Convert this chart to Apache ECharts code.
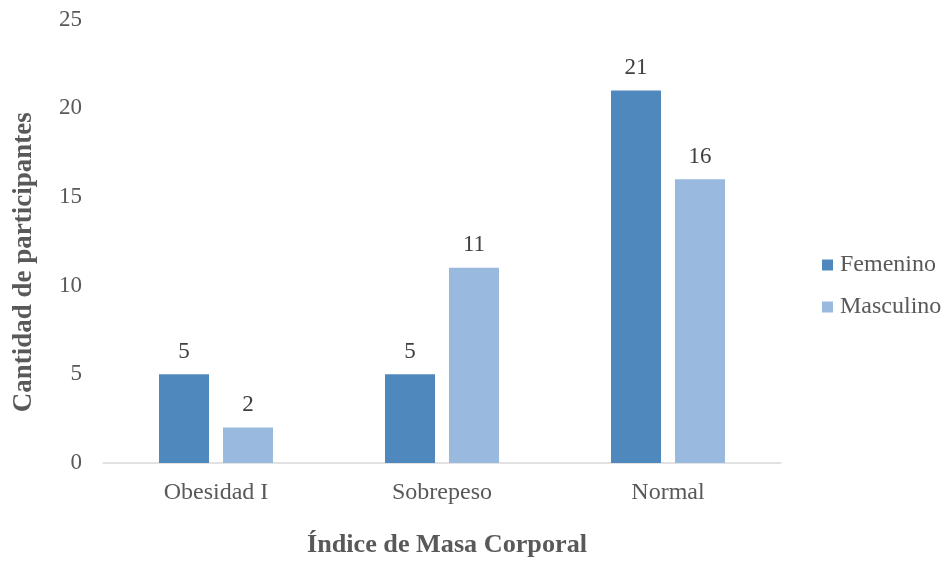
<!DOCTYPE html>
<html>
<head>
<meta charset="utf-8">
<script src="https://cdn.jsdelivr.net/npm/echarts@6/dist/echarts.min.js"></script>
<style>
  html, body { margin: 0; padding: 0; background: #fff; }
  #chart { width: 945px; height: 561px; }
</style>
</head>
<body>
<div id="chart"></div>
<script>
// Categorías del índice de masa corporal y recuento por sexo
const categories = ['Obesidad I', 'Sobrepeso', 'Normal'];
const femenino = [5, 5, 21];
const masculino = [2, 11, 16];
const yTicks = [0, 5, 10, 15, 20, 25];

const serif = '"Liberation Serif", "Times New Roman", serif';
const chart = echarts.init(document.getElementById('chart'));

const labelStyle = {
  show: true,
  position: 'top',
  distance: 11,
  color: '#404040',
  fontFamily: serif,
  fontSize: 23
};

chart.setOption({
  animation: false,
  textStyle: { fontFamily: serif },
  grid: {
    left: 103, right: 164, top: 19.5, bottom: 98,
    containLabel: false,
    outerBoundsMode: 'none'
  },
  legend: {
    orient: 'vertical',
    left: 817,
    top: 248,
    itemWidth: 11,
    itemHeight: 11,
    itemGap: 18,
    icon: 'rect',
    textStyle: { color: '#595959', fontSize: 24, fontFamily: serif, padding: [0, 0, 0, 2] },
    data: ['Femenino', 'Masculino']
  },
  xAxis: {
    type: 'category',
    data: categories,
    name: 'Índice de Masa Corporal',
    nameLocation: 'middle',
    nameGap: 69,
    nameTextStyle: {
      color: '#595959', fontSize: 26.2, fontWeight: 'bold', fontFamily: serif,
      padding: [0, 0, 0, 10]
    },
    axisLine: { lineStyle: { color: '#D9D9D9', width: 1.5 } },
    axisTick: { show: false },
    axisLabel: { color: '#595959', fontSize: 24, fontFamily: serif, margin: 18 }
  },
  yAxis: {
    type: 'value',
    min: yTicks[0],
    max: yTicks[yTicks.length - 1],
    interval: 5,
    name: 'Cantidad de participantes',
    nameLocation: 'middle',
    nameGap: 65,
    nameTextStyle: {
      color: '#595959', fontSize: 27, fontWeight: 'bold', fontFamily: serif,
      padding: [0, 42, 0, 0]
    },
    axisLine: { show: false },
    axisTick: { show: false },
    splitLine: { show: false },
    axisLabel: { color: '#595959', fontSize: 23, fontFamily: serif, margin: 21 }
  },
  series: [
    {
      name: 'Femenino',
      type: 'bar',
      data: femenino,
      barWidth: 50,
      barGap: '28%',
      itemStyle: { color: '#4F88BD' },
      label: labelStyle
    },
    {
      name: 'Masculino',
      type: 'bar',
      data: masculino,
      barWidth: 50,
      barGap: '28%',
      itemStyle: { color: '#9AB9DF' },
      label: labelStyle
    }
  ]
});
</script>
</body>
</html>
